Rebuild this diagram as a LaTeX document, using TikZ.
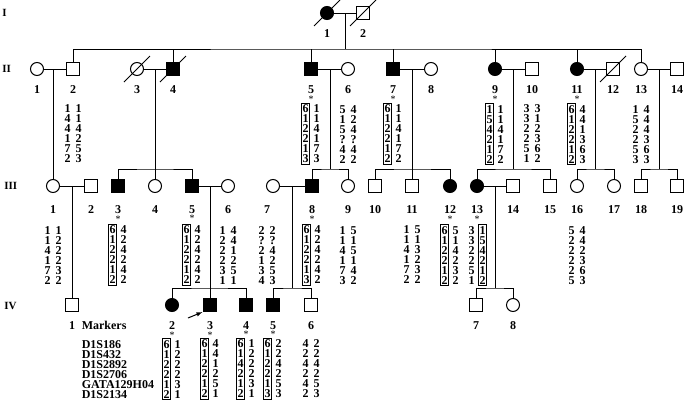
\documentclass[tikz,border=0pt]{standalone}
\usepackage{fontspec}
\setmainfont{Liberation Serif}
\usetikzlibrary{positioning}

% two allele columns under the number of an individual
\newcommand{\haplo}[6]{%
  \node[#3, below=#2 of l-#1, xshift=-5.5pt] (h-#1-a) {#4};
  \node[#5, below=#2 of l-#1, xshift=5.5pt] (h-#1-b) {#6};}

\begin{document}
\begin{tikzpicture}[x=1pt,y=-1pt,line width=0.8pt,
      male/.style={draw,rectangle,minimum size=12.5pt,inner sep=0,line width=1pt},
      female/.style={draw,circle,minimum size=13pt,inner sep=0,line width=1pt},
      aff/.style={fill=black},
      idlabel/.style={font=\fontsize{12}{12}\selectfont\bfseries,inner sep=0},
      gen/.style={font=\fontsize{11}{11}\selectfont\bfseries,inner sep=0,anchor=west},
      carrier/.style={font=\fontsize{10}{10}\selectfont,inner sep=0},
      hap/.style={font=\fontsize{12}{10}\selectfont\bfseries,align=center,
                  inner xsep=1pt,inner ysep=1.5pt},
      hbox/.style={hap,draw,line width=0.7pt},
      slash/.style={line width=0.9pt},
    ]
  \useasboundingbox (0,0) rectangle (685,402);

  % generations
  \node[gen] (gI) at (2,13) {I};
  \node[gen] (gII) at (2,69) {II};
  \node[gen] (gIII) at (4,186) {III};
  \node[gen] (gIV) at (4,306) {IV};

  % generation I
  \node[female,aff] (i1) at (327,13) {};
  \node[male] (i2) at (363,13) {};

  % generation II
  \node[female] (ii1) at (37,69) {};
  \node[male] (ii2) at (73,69) {};
  \node[female] (ii3) at (137,69) {};
  \node[male,aff] (ii4) at (173,69) {};
  \node[male,aff] (ii5) at (311,69) {};
  \node[female] (ii6) at (348,69) {};
  \node[male,aff] (ii7) at (393,69) {};
  \node[female] (ii8) at (431,69) {};
  \node[female,aff] (ii9) at (495,69) {};
  \node[male] (ii10) at (532,69) {};
  \node[female,aff] (ii11) at (577,69) {};
  \node[male] (ii12) at (613,69) {};
  \node[female] (ii13) at (641,69) {};
  \node[male] (ii14) at (677,69) {};

  % generation III
  \node[female] (iii1) at (53,186) {};
  \node[male] (iii2) at (91,186) {};
  \node[male,aff] (iii3) at (118,186) {};
  \node[female] (iii4) at (155,186) {};
  \node[male,aff] (iii5) at (192,186) {};
  \node[female] (iii6) at (228,186) {};
  \node[female] (iii7) at (273,186) {};
  \node[male,aff] (iii8) at (312,186) {};
  \node[female] (iii9) at (348,186) {};
  \node[male] (iii10) at (375,186) {};
  \node[male] (iii11) at (412,186) {};
  \node[female,aff] (iii12) at (450,186) {};
  \node[female,aff] (iii13) at (477,186) {};
  \node[male] (iii14) at (513,186) {};
  \node[male] (iii15) at (550,186) {};
  \node[female] (iii16) at (577,186) {};
  \node[female] (iii17) at (614,186) {};
  \node[male] (iii18) at (641,186) {};
  \node[male] (iii19) at (677,186) {};

  % generation IV
  \node[male] (iv1) at (72,305) {};
  \node[female,aff] (iv2) at (172,305) {};
  \node[male,aff] (iv3) at (210,305) {};
  \node[male,aff] (iv4) at (246,305) {};
  \node[male,aff] (iv5) at (273,305) {};
  \node[male] (iv6) at (311,305) {};
  \node[male] (iv7) at (476,305) {};
  \node[female] (iv8) at (513,305) {};

  % deceased
  \foreach \p in {i1,i2,ii3,ii4,ii12}
    \draw[slash] ([shift={(-13,13)}]\p.center) -- ([shift={(13,-13)}]\p.center);

  % matings
  \draw (i1) -- (i2);
  \draw (ii1) -- (ii2);
  \draw (ii3) -- (ii4);
  \draw (ii5) -- (ii6);
  \draw (ii7) -- (ii8);
  \draw (ii9) -- (ii10);
  \draw (ii11) -- (ii12);
  \draw (ii13) -- (ii14);
  \draw (iii1) -- (iii2);
  \draw (iii5) -- (iii6);
  \draw (iii7) -- (iii8);
  \draw (iii13) -- (iii14);

  % sibships
  \coordinate (s-i) at (345,49);
  \draw (s-i) -- (s-i |- i1);
  \draw (ii2) |- (s-i) -| (ii13);
  \foreach \c in {ii4,ii5,ii7,ii9,ii11}
    \draw (\c) -- (\c |- s-i);

  \draw (iii1) -- (iii1 |- ii1);
  \coordinate (s-ii3) at (155,169);
  \draw (iii4) -- (iii4 |- ii3);
  \draw (iii3) |- (s-ii3) -| (iii5);
  \coordinate (s-ii5) at (330,169);
  \draw (s-ii5) -- (s-ii5 |- ii5);
  \draw (iii8) |- (s-ii5) -| (iii9);
  \coordinate (s-ii7) at (412,169);
  \draw (iii11) -- (iii11 |- ii7);
  \draw (iii10) |- (s-ii7) -| (iii12);
  \coordinate (s-ii9) at (513,169);
  \draw (s-ii9) -- (s-ii9 |- ii9);
  \draw (iii13) |- (s-ii9) -| (iii15);
  \coordinate (s-ii11) at (595,169);
  \draw (s-ii11) -- (s-ii11 |- ii11);
  \draw (iii16) |- (s-ii11) -| (iii17);
  \coordinate (s-ii13) at (659,169);
  \draw (s-ii13) -- (s-ii13 |- ii13);
  \draw (iii18) |- (s-ii13) -| (iii19);

  \draw (iv1) -- (iv1 |- iii1);
  \coordinate (s-iii5) at (210,288);
  \draw (iv3) -- (iv3 |- iii5);
  \draw (iv2) |- (s-iii5) -| (iv4);
  \coordinate (s-iii8) at (292.5,288);
  \draw (s-iii8) -- (s-iii8 |- iii8);
  \draw (iv5) |- (s-iii8) -| (iv6);
  \coordinate (s-iii13) at (495,288);
  \draw (s-iii13) -- (s-iii13 |- iii13);
  \draw (iv7) |- (s-iii13) -| (iv8);

  % numbers
  \node[idlabel,below=9.5pt of i1] (l-i1) {1};
  \node[idlabel,below=9.5pt of i2] (l-i2) {2};
  \node[idlabel,below=9.5pt of ii1] (l-ii1) {1};
  \node[idlabel,below=9.5pt of ii2] (l-ii2) {2};
  \node[idlabel,below=9.5pt of ii3] (l-ii3) {3};
  \node[idlabel,below=9.5pt of ii4] (l-ii4) {4};
  \node[idlabel,below=9.5pt of ii5] (l-ii5) {5};
  \node[idlabel,below=9.5pt of ii6] (l-ii6) {6};
  \node[idlabel,below=9.5pt of ii7] (l-ii7) {7};
  \node[idlabel,below=9.5pt of ii8] (l-ii8) {8};
  \node[idlabel,below=9.5pt of ii9] (l-ii9) {9};
  \node[idlabel,below=9.5pt of ii10] (l-ii10) {10};
  \node[idlabel,below=9.5pt of ii11] (l-ii11) {11};
  \node[idlabel,below=9.5pt of ii12] (l-ii12) {12};
  \node[idlabel,below=9.5pt of ii13] (l-ii13) {13};
  \node[idlabel,below=9.5pt of ii14] (l-ii14) {14};
  \node[idlabel,below=12pt of iii1] (l-iii1) {1};
  \node[idlabel,below=12pt of iii2] (l-iii2) {2};
  \node[idlabel,below=12pt of iii3] (l-iii3) {3};
  \node[idlabel,below=12pt of iii4] (l-iii4) {4};
  \node[idlabel,below=12pt of iii5] (l-iii5) {5};
  \node[idlabel,below=12pt of iii6] (l-iii6) {6};
  \node[idlabel,below=12pt of iii7,xshift=-6pt] (l-iii7) {7};
  \node[idlabel,below=12pt of iii8] (l-iii8) {8};
  \node[idlabel,below=12pt of iii9] (l-iii9) {9};
  \node[idlabel,below=12pt of iii10] (l-iii10) {10};
  \node[idlabel,below=12pt of iii11] (l-iii11) {11};
  \node[idlabel,below=12pt of iii12] (l-iii12) {12};
  \node[idlabel,below=12pt of iii13] (l-iii13) {13};
  \node[idlabel,below=12pt of iii14] (l-iii14) {14};
  \node[idlabel,below=12pt of iii15] (l-iii15) {15};
  \node[idlabel,below=12pt of iii16] (l-iii16) {16};
  \node[idlabel,below=12pt of iii17] (l-iii17) {17};
  \node[idlabel,below=12pt of iii18] (l-iii18) {18};
  \node[idlabel,below=12pt of iii19] (l-iii19) {19};
  \node[idlabel,below=9pt of iv1] (l-iv1) {1};
  \node[idlabel,below=9pt of iv2] (l-iv2) {2};
  \node[idlabel,below=9pt of iv3] (l-iv3) {3};
  \node[idlabel,below=9pt of iv4] (l-iv4) {4};
  \node[idlabel,below=9pt of iv5] (l-iv5) {5};
  \node[idlabel,below=9pt of iv6] (l-iv6) {6};
  \node[idlabel,below=9pt of iv7] (l-iv7) {7};
  \node[idlabel,below=9pt of iv8] (l-iv8) {8};

  % haplotype carriers
  \foreach \c in {ii5,ii7,ii9,ii11,iii3,iii5,iii8,iii12,iii13,iv2,iv3,iv4,iv5}
    \node[carrier,below=1.5pt of l-\c] (a-\c) {*};

  % haplotypes
  \haplo{ii2}{9pt}{hap}{1\\4\\4\\1\\7\\2}{hap}{1\\1\\4\\2\\5\\3}
  \haplo{ii5}{9pt}{hbox}{6\\1\\2\\2\\1\\3}{hap}{1\\1\\4\\1\\7\\3}
  \haplo{ii6}{9pt}{hap}{5\\1\\5\\?\\4\\2}{hap}{4\\2\\4\\?\\4\\2}
  \haplo{ii7}{9pt}{hbox}{6\\1\\2\\2\\1\\2}{hap}{1\\1\\4\\1\\7\\2}
  \haplo{ii9}{9pt}{hbox}{1\\5\\4\\2\\1\\2}{hap}{1\\1\\4\\1\\7\\2}
  \haplo{ii10}{9pt}{hap}{3\\3\\2\\2\\5\\1}{hap}{3\\1\\2\\3\\6\\2}
  \haplo{ii11}{9pt}{hbox}{6\\1\\2\\2\\1\\2}{hap}{4\\4\\1\\3\\6\\3}
  \haplo{ii13}{9pt}{hap}{1\\5\\2\\2\\5\\3}{hap}{4\\4\\4\\3\\6\\3}

  \haplo{iii1}{10.5pt}{hap}{1\\1\\4\\1\\7\\2}{hap}{1\\2\\2\\2\\3\\2}
  \haplo{iii3}{10.5pt}{hbox}{6\\1\\2\\2\\1\\2}{hap}{4\\2\\4\\2\\4\\2}
  \haplo{iii5}{10.5pt}{hbox}{6\\1\\2\\2\\1\\2}{hap}{4\\2\\4\\2\\4\\2}
  \haplo{iii6}{10.5pt}{hap}{1\\2\\2\\2\\3\\1}{hap}{4\\4\\1\\2\\5\\1}
  \haplo{iii7}{10.5pt}{hap}{2\\?\\2\\1\\3\\4}{hap}{2\\?\\4\\2\\5\\3}
  \haplo{iii8}{10.5pt}{hbox}{6\\1\\2\\2\\1\\3}{hap}{4\\2\\4\\2\\4\\2}
  \haplo{iii9}{10.5pt}{hap}{1\\1\\4\\1\\7\\3}{hap}{5\\1\\5\\1\\4\\2}
  \haplo{iii11}{10.5pt}{hap}{1\\1\\4\\1\\7\\2}{hap}{5\\1\\3\\2\\3\\2}
  \haplo{iii12}{10.5pt}{hbox}{6\\1\\2\\2\\1\\2}{hap}{5\\1\\4\\2\\3\\2}
  \haplo{iii13}{10.5pt}{hap}{3\\3\\2\\2\\5\\1}{hbox}{1\\5\\4\\2\\1\\2}
  \haplo{iii16}{10.5pt}{hap}{5\\2\\2\\2\\2\\5}{hap}{4\\4\\2\\3\\6\\3}

  \haplo{iv2}{8.5pt}{hbox}{6\\1\\2\\2\\1\\2}{hap}{1\\2\\2\\2\\3\\1}
  \haplo{iv3}{8.5pt}{hbox}{6\\1\\2\\2\\1\\2}{hap}{4\\4\\1\\2\\5\\1}
  \haplo{iv4}{8.5pt}{hbox}{6\\1\\4\\2\\1\\2}{hap}{1\\2\\2\\2\\3\\1}
  \haplo{iv5}{8.5pt}{hbox}{6\\1\\2\\2\\1\\3}{hap}{2\\2\\4\\2\\5\\3}
  \haplo{iv6}{8.5pt}{hap}{4\\2\\4\\2\\4\\2}{hap}{2\\2\\4\\2\\5\\3}

  % markers
  \node[idlabel,right=6pt of l-iv1] (mlab) {Markers};
  \node[hap,align=left,anchor=north west,inner xsep=0] (mk) at (mlab.west |- h-iv2-a.north)
    {D1S186\\D1S432\\D1S2892\\D1S2706\\GATA129H04\\D1S2134};

  % proband
  \coordinate (ptr) at (188,318);
  \draw[-latex,line width=1pt,shorten >=1pt] (ptr) -- (iv3.south west);
\end{tikzpicture}
\end{document}
